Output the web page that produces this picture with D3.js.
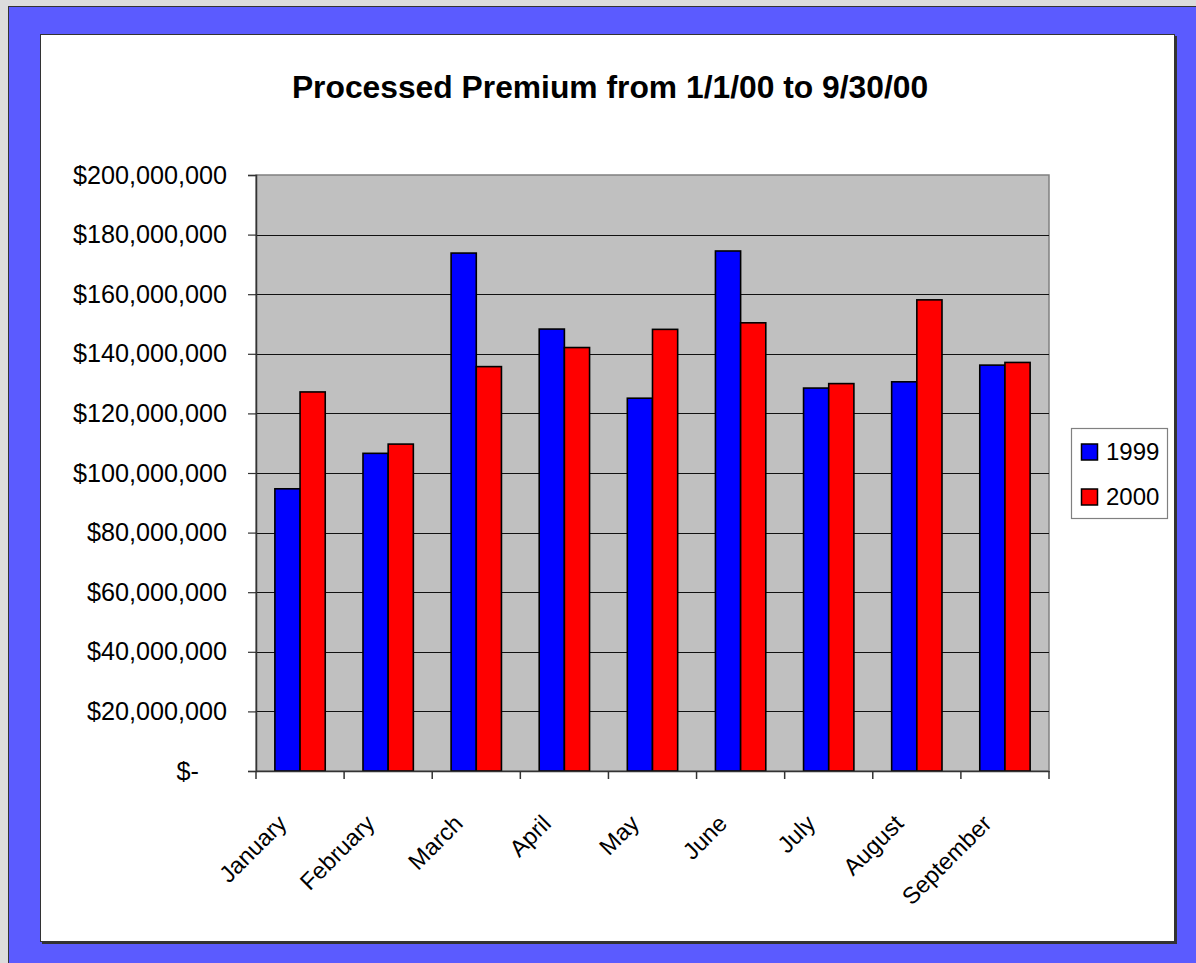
<!DOCTYPE html>
<html>
<head>
<meta charset="utf-8">
<script src="https://cdn.jsdelivr.net/npm/d3@7"></script>
<style>
  body { margin: 0; background: #dcdcdc; }
  svg text { font-family: "Liberation Sans", Arial, sans-serif; fill: #000; }
</style>
</head>
<body>
<div id="chart"></div>
<script>
// data
const months = ["January", "February", "March", "April", "May", "June", "July", "August", "September"];
const premium1999 = [94.7e6, 106.6e6, 173.8e6, 148.3e6, 125.1e6, 174.5e6, 128.5e6, 130.6e6, 136.2e6];
const premium2000 = [127.2e6, 109.7e6, 135.7e6, 142.1e6, 148.2e6, 150.4e6, 130.0e6, 158.1e6, 137.1e6];
const seriesNames = ["1999", "2000"];
const seriesColors = ["#0000ff", "#ff0000"];
const yTickValues = [0, 20e6, 40e6, 60e6, 80e6, 100e6, 120e6, 140e6, 160e6, 180e6, 200e6];

const width = 1196, height = 963;

const svg = d3.select("#chart")
    .append("svg")
    .attr("width", width)
    .attr("height", height);

// frame: grey page, blue border, white chart area
svg.append("rect")
    .attr("x", 8.5).attr("y", 6.5)
    .attr("width", width).attr("height", height)
    .attr("fill", "#5b5bff")
    .attr("stroke", "#333").attr("stroke-width", 1);

// shadow of the white area
svg.append("rect")
    .attr("x", 42).attr("y", 36)
    .attr("width", 1135).attr("height", 908)
    .attr("fill", "#333");
svg.append("rect")
    .attr("x", 40.5).attr("y", 34.5)
    .attr("width", 1134).attr("height", 907)
    .attr("fill", "#fff")
    .attr("stroke", "#333").attr("stroke-width", 1);

// title
svg.append("text")
    .attr("x", 610)
    .attr("y", 98)
    .attr("text-anchor", "middle")
    .attr("font-size", 31.8)
    .attr("font-weight", "bold")
    .text("Processed Premium from 1/1/00 to 9/30/00");

const plot = { left: 256, right: 1049, top: 175, bottom: 771 };

const x0 = d3.scaleBand()
    .domain(months)
    .range([plot.left, plot.right])
    .padding(0);

const x1 = d3.scaleBand()
    .domain(seriesNames)
    .range([0, x0.bandwidth()])
    .paddingInner(0)
    .paddingOuter(0.75);

const y = d3.scaleLinear()
    .domain([0, 200e6])
    .range([plot.bottom, plot.top]);

// plot background
svg.append("rect")
    .attr("x", plot.left).attr("y", plot.top)
    .attr("width", plot.right - plot.left)
    .attr("height", plot.bottom - plot.top)
    .attr("fill", "#c0c0c0")
    .attr("stroke", "#808080").attr("stroke-width", 1.5);

// gridlines
svg.append("g")
    .selectAll("line")
    .data(yTickValues.filter(d => d > 0 && d < 200e6))
    .enter()
    .append("line")
    .attr("x1", plot.left).attr("x2", plot.right)
    .attr("y1", d => Math.round(y(d)) + 0.5)
    .attr("y2", d => Math.round(y(d)) + 0.5)
    .attr("stroke", "#111").attr("stroke-width", 1.2);

// bars
const rows = months.map((m, i) => ({ month: m, values: [premium1999[i], premium2000[i]] }));

svg.append("g")
    .selectAll("g")
    .data(rows)
    .enter()
    .append("g")
    .attr("transform", d => `translate(${x0(d.month)},0)`)
    .selectAll("rect")
    .data(d => d.values.map((v, j) => ({ key: seriesNames[j], value: v, color: seriesColors[j] })))
    .enter()
    .append("rect")
    .attr("x", d => x1(d.key))
    .attr("y", d => y(d.value))
    .attr("width", x1.bandwidth())
    .attr("height", d => plot.bottom - y(d.value))
    .attr("fill", d => d.color)
    .attr("stroke", "#000")
    .attr("stroke-width", 1.6);

// y axis
const fmt = d3.format(",");
const yAxis = d3.axisLeft(y)
    .tickValues(yTickValues)
    .tickSize(8)
    .tickPadding(21)
    .tickFormat(d => d === 0 ? "$-" : "$" + fmt(d));

const gy = svg.append("g")
    .attr("transform", `translate(${plot.left},0)`)
    .call(yAxis);
gy.select(".domain").attr("stroke", "#333").attr("stroke-width", 1.5);
gy.selectAll(".tick line").attr("stroke", "#333").attr("stroke-width", 1.2);
gy.selectAll(".tick text")
    .attr("font-size", 25.2)
    .attr("font-family", "Liberation Sans, Arial, sans-serif")
    .attr("fill", "#000")
    .attr("dx", d => d === 0 ? -28 : 0);

// x axis
const xAxis = d3.axisBottom(x0).tickSize(0).tickFormat("");
const gx = svg.append("g")
    .attr("transform", `translate(0,${plot.bottom})`)
    .call(xAxis);
gx.select(".domain").attr("stroke", "#333").attr("stroke-width", 1.5);

// tick marks on category borders
gx.selectAll(".border")
    .data(months.concat(["end"]))
    .enter()
    .append("line")
    .attr("class", "border")
    .attr("x1", (d, i) => i < months.length ? x0(d) : plot.right)
    .attr("x2", (d, i) => i < months.length ? x0(d) : plot.right)
    .attr("y1", 0).attr("y2", 8)
    .attr("stroke", "#333").attr("stroke-width", 1.5);

// rotated month labels
gx.selectAll(".mlabel")
    .data(months)
    .enter()
    .append("text")
    .attr("class", "mlabel")
    .attr("text-anchor", "end")
    .attr("font-size", 23.5)
    .attr("transform", d => `translate(${x0(d) + x0.bandwidth() / 2 - 12},${54}) rotate(-45)`)
    .text(d => d);

// legend
const legend = svg.append("g").attr("transform", "translate(1071,428)");
legend.append("rect")
    .attr("x", 0.5).attr("y", 0.5)
    .attr("width", 96).attr("height", 90)
    .attr("fill", "#fff")
    .attr("stroke", "#808080").attr("stroke-width", 1.2);

const items = legend.selectAll(".item")
    .data(seriesNames)
    .enter()
    .append("g")
    .attr("class", "item")
    .attr("transform", (d, i) => `translate(0,${24 + i * 45})`);

items.append("rect")
    .attr("x", 10.5).attr("y", -8)
    .attr("width", 16).attr("height", 16)
    .attr("fill", (d, i) => seriesColors[i])
    .attr("stroke", "#000").attr("stroke-width", 1.5);

items.append("text")
    .attr("x", 35)
    .attr("y", 0)
    .attr("dy", "0.35em")
    .attr("font-size", 24)
    .text(d => d);
</script>
</body>
</html>
